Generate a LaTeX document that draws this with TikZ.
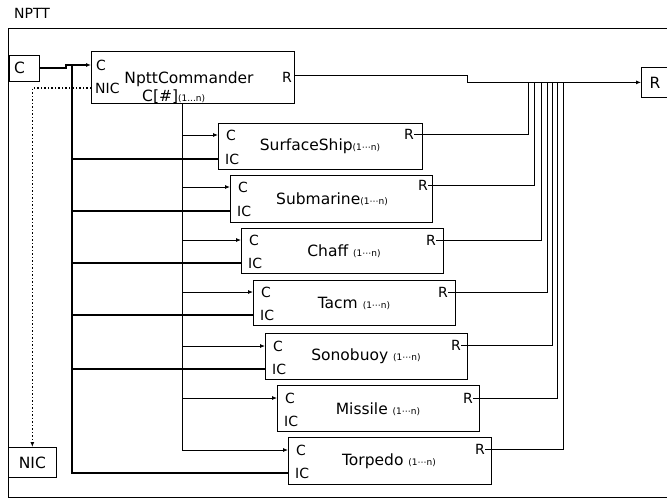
\documentclass[tikz,border=0pt]{standalone}
\usepackage{fontspec}
\setmainfont{DejaVu Sans}
\usetikzlibrary{arrows.meta}
\newcommand\smtxt[1]{{\fontsize{9}{9}\selectfont #1}}
\begin{document}
\begin{tikzpicture}[x=1pt,y=-1pt,
  box/.style={draw, line width=1.1pt, rectangle, inner sep=0pt, anchor=north west},
  portbox/.style={draw, line width=0.7pt, rectangle, inner sep=0pt, anchor=north west},
  lbl/.style={font=\fontsize{14}{14}\selectfont, inner sep=0pt},
  big/.style={font=\fontsize{15.5}{16}\selectfont, inner sep=0pt},
  thinline/.style={line width=0.8pt},
  heavy/.style={line width=2pt},
  arr/.style={-{Latex[length=5pt,width=4pt]}},
]
\useasboundingbox (0,0) rectangle (667,499);
% title and frame
\node[lbl, anchor=west] (title) at (14,13) {NPTT};
\draw[line width=1pt] (667,28) -- (8,28) -- (8,497) -- (667,497);

% outer ports
\node[portbox, minimum width=30pt, minimum height=26pt] (cin) at (9,55) {};
\node[big, anchor=west] (cinl) at (14,68) {C};
\node[portbox, minimum width=48pt, minimum height=30pt, font=\fontsize{15.5}{16}\selectfont] (nicout) at (8,447) {NIC};
\node[portbox, minimum width=32pt, minimum height=30pt] (rout) at (641,67) {};
\node[big] (routl) at (655,83) {R};

% commander
\node[box, minimum width=203pt, minimum height=52pt] (cmd) at (91,51) {};
\node[lbl, anchor=west] (cmdC) at (96,65) {C};
\node[lbl, anchor=west] (cmdNIC) at (95,88) {NIC};
\node[big] (cmdname) at (189,79) {NpttCommander};
\node[big, anchor=base west] (cmdidx) at (142,101) {C[\#]\smtxt{(1...n)}};
\node[lbl, anchor=east] (cmdR) at (292,77) {R};

% child boxes
\node[box, minimum width=204pt, minimum height=46pt] (surf) at (218,123) {};
\node[big] (surfn) at (320,146) {SurfaceShip\smtxt{(1⋯n)}};
\node[lbl, anchor=west] (surfC) at (226,135) {C};
\node[lbl, anchor=west] (surfIC) at (225,159) {IC};
\node[lbl, anchor=east] (surfR) at (414,134) {R};

\node[box, minimum width=202pt, minimum height=47pt] (sub) at (230,175) {};
\node[big] (subn) at (332,199) {Submarine\smtxt{(1⋯n)}};
\node[lbl, anchor=west] (subC) at (238,187) {C};
\node[lbl, anchor=west] (subIC) at (237,211) {IC};
\node[lbl, anchor=east] (subR) at (428,185) {R};

\node[box, minimum width=202pt, minimum height=45pt] (chaff) at (241,228) {};
\node[big] (chaffn) at (344,251) {Chaff \smtxt{(1⋯n)}};
\node[lbl, anchor=west] (chaffC) at (249,240) {C};
\node[lbl, anchor=west] (chaffIC) at (248,263) {IC};
\node[lbl, anchor=east] (chaffR) at (436,240) {R};

\node[box, minimum width=202pt, minimum height=45pt] (tacm) at (253,280) {};
\node[big] (tacmn) at (354,303) {Tacm \smtxt{(1⋯n)}};
\node[lbl, anchor=west] (tacmC) at (261,292) {C};
\node[lbl, anchor=west] (tacmIC) at (260,315) {IC};
\node[lbl, anchor=east] (tacmR) at (448,292) {R};

\node[box, minimum width=202pt, minimum height=46pt] (sono) at (265,333) {};
\node[big] (sonon) at (366,356) {Sonobuoy \smtxt{(1⋯n)}};
\node[lbl, anchor=west] (sonoC) at (273,346) {C};
\node[lbl, anchor=west] (sonoIC) at (272,369) {IC};
\node[lbl, anchor=east] (sonoR) at (461,345) {R};

\node[box, minimum width=202pt, minimum height=46pt] (miss) at (277,385) {};
\node[big] (missn) at (378,409) {Missile \smtxt{(1⋯n)}};
\node[lbl, anchor=west] (missC) at (285,398) {C};
\node[lbl, anchor=west] (missIC) at (284,421) {IC};
\node[lbl, anchor=east] (missR) at (473,398) {R};

\node[box, minimum width=203pt, minimum height=47pt] (torp) at (288,437) {};
\node[big] (torpn) at (389,461) {Torpedo \smtxt{(1⋯n)}};
\node[lbl, anchor=west] (torpC) at (296,450) {C};
\node[lbl, anchor=west] (torpIC) at (295,473) {IC};
\node[lbl, anchor=east] (torpR) at (485,449) {R};

% helper coordinates
\coordinate (icbus) at (72,65);
\coordinate (cbus) at (182,103);
\coordinate (cmdRo) at (294,75);
\coordinate (rstep) at (467,75);
\coordinate (j1) at (528,82);
\coordinate (j2) at (534,82);
\coordinate (j3) at (541,82);
\coordinate (j4) at (547,82);
\coordinate (j5) at (552,82);
\coordinate (j6) at (557,82);
\coordinate (j7) at (563,82);

% input C to commander
\draw[heavy, arr] (cin.east) -- ++(26,0) |- (cmd.west |- cmdC);
% IC bus
\draw[heavy] (icbus) -- (icbus |- torpIC) -- (torp.west |- torpIC);
\draw[heavy] (icbus |- surfIC) -- (surf.west |- surfIC);
\draw[heavy] (icbus |- subIC) -- (sub.west |- subIC);
\draw[heavy] (icbus |- chaffIC) -- (chaff.west |- chaffIC);
\draw[heavy] (icbus |- tacmIC) -- (tacm.west |- tacmIC);
\draw[heavy] (icbus |- sonoIC) -- (sono.west |- sonoIC);
% NIC dotted
\draw[dotted, line width=1.5pt, arr] (cmd.west |- cmdNIC) -| (nicout.north);
% C bus
\draw[thinline] (cbus) -- (cbus |- torpC);
\draw[thinline, arr] (cbus |- surfC) -- (surf.west |- surfC);
\draw[thinline, arr] (cbus |- subC) -- (sub.west |- subC);
\draw[thinline, arr] (cbus |- chaffC) -- (chaff.west |- chaffC);
\draw[thinline, arr] (cbus |- tacmC) -- (tacm.west |- tacmC);
\draw[thinline, arr] (cbus |- sonoC) -- (sono.west |- sonoC);
\draw[thinline, arr] (cbus |- missC) -- (miss.west |- missC);
\draw[thinline, arr] (cbus |- torpC) -- (torp.west |- torpC);
% R outputs
\draw[thinline, arr] (cmdRo) -- (rstep) |- (rout.west);
\draw[thinline] (surfR.east) -| (j1);
\draw[thinline] (subR.east) -| (j2);
\draw[thinline] (chaffR.east) -| (j3);
\draw[thinline] (tacmR.east) -| (j4);
\draw[thinline] (sonoR.east) -| (j5);
\draw[thinline] (missR.east) -| (j6);
\draw[thinline] (torpR.east) -| (j7);
\end{tikzpicture}
\end{document}
